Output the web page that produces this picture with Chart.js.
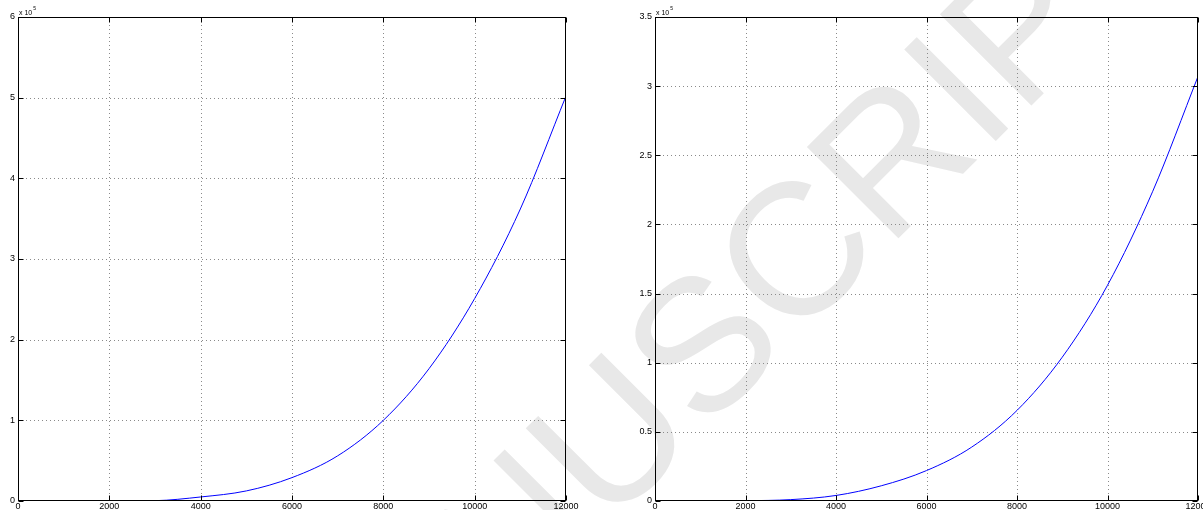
<!DOCTYPE html>
<html>
<head>
<meta charset="utf-8">
<script src="https://cdn.jsdelivr.net/npm/chart.js@4.4.0/dist/chart.umd.min.js"></script>
<style>
html, body { margin: 0; padding: 0; background: #fff; overflow: hidden; }
#wrap { position: relative; width: 1203px; height: 510px; overflow: hidden; }
#mark {
  position: absolute; left: 705px; top: 340px;
  transform: translate(-50%, -50%) rotate(-45deg);
  font: 188px "Liberation Sans", Arial, sans-serif;
  color: #e8e8e8; white-space: nowrap; line-height: 1; z-index: 0;
}
canvas { position: absolute; top: 0; z-index: 1; }
#left { left: 0; }
#right { left: 580px; }
</style>
</head>
<body>
<div id="wrap">
  <div id="mark">MANUSCRIPT</div>
  <canvas id="left" width="580" height="510"></canvas>
  <canvas id="right" width="623" height="510"></canvas>
</div>
<script>
// values, y in units of 10^5
const xVals = [0, 1000, 2000, 3000, 4000, 5000, 6000, 7000, 8000, 9000, 10000, 11000, 12000]
const leftVals = [0, 0, 0, 0.004, 0.05, 0.125, 0.29, 0.56, 1.0, 1.64, 2.51, 3.62, 5.02]
const rightVals = [0, 0, 0.002, 0.01, 0.04, 0.11, 0.22, 0.39, 0.655, 1.04, 1.56, 2.24, 3.07]
const exponent = "5"

const fam = '"Liberation Sans", Arial, Helvetica, sans-serif'

const matlabFrame = {
    id: "matlabFrame",
    beforeDatasetsDraw(chart) {
        const {ctx, chartArea: a, scales: {x, y}} = chart
        ctx.save()
        ctx.strokeStyle = "#8a8a8a"
        ctx.lineWidth = 1
        ctx.setLineDash([1, 3])
        ctx.beginPath()
        x.ticks.forEach(t => {
            if (t.value <= x.min || t.value >= x.max) return
            const px = Math.round(x.getPixelForValue(t.value)) + 0.5
            ctx.moveTo(px, a.top); ctx.lineTo(px, a.bottom)
        })
        y.ticks.forEach(t => {
            if (t.value <= y.min || t.value >= y.max) return
            const py = Math.round(y.getPixelForValue(t.value)) + 0.5
            ctx.moveTo(a.left, py); ctx.lineTo(a.right, py)
        })
        ctx.stroke()
        ctx.restore()
    },
    afterDatasetsDraw(chart) {
        const {ctx, chartArea: a, scales: {x, y}} = chart
        const L = Math.round(a.left) + 0.5, R = Math.round(a.right) - 0.5
        const T = Math.round(a.top) + 0.5, B = Math.round(a.bottom) - 0.5
        ctx.save()
        ctx.strokeStyle = "#000"
        ctx.lineWidth = 1
        ctx.strokeRect(L, T, R - L, B - T)
        ctx.beginPath()
        x.ticks.forEach(t => {
            const px = Math.round(x.getPixelForValue(t.value)) + 0.5
            ctx.moveTo(px, B); ctx.lineTo(px, B - 5)
            ctx.moveTo(px, T); ctx.lineTo(px, T + 5)
        })
        y.ticks.forEach(t => {
            const py = Math.round(y.getPixelForValue(t.value)) + 0.5
            ctx.moveTo(L, py); ctx.lineTo(L + 5, py)
            ctx.moveTo(R, py); ctx.lineTo(R - 5, py)
        })
        ctx.stroke()
        // exponent label
        ctx.fillStyle = "#000"
        ctx.textBaseline = "alphabetic"
        ctx.font = "7px " + fam
        ctx.fillText("x 10", a.left + 1, a.top - 2)
        const w = ctx.measureText("x 10").width
        ctx.font = "5px " + fam
        ctx.fillText(exponent, a.left + 2 + w, a.top - 7)
        ctx.restore()
    }
}

function makeChart(id, values, yMax, yStep, yAxisW, padRight) {
    return new Chart(document.getElementById(id), {
        type: "line",
        data: {
            datasets: [{
                data: xVals.map((x, i) => ({x: x, y: values[i]})),
                borderColor: "#0000ff",
                borderWidth: 1,
                pointRadius: 0,
                cubicInterpolationMode: "monotone",
                fill: false
            }]
        },
        options: {
            responsive: false,
            animation: false,
            layout: {padding: {top: 17, right: padRight, left: 0, bottom: 0}},
            plugins: {legend: {display: false}, tooltip: {enabled: false}},
            scales: {
                x: {
                    type: "linear", min: 0, max: 12000,
                    ticks: {stepSize: 2000, autoSkip: false, maxRotation: 0, padding: 0,
                        color: "#000", font: {size: 9, family: fam}, callback: v => String(v)},
                    grid: {display: false, drawTicks: false},
                    border: {display: false},
                    afterFit: s => { s.height = 9; s.paddingLeft = 0; s.paddingRight = 0 }
                },
                y: {
                    min: 0, max: yMax,
                    ticks: {stepSize: yStep, padding: 3, color: "#000",
                        font: {size: 9, family: fam}, callback: v => String(v)},
                    grid: {display: false, drawTicks: false},
                    border: {display: false},
                    afterFit: s => { s.width = yAxisW }
                }
            }
        },
        plugins: [matlabFrame]
    })
}

makeChart("left", leftVals, 6, 1, 18, 14)
makeChart("right", rightVals, 3.5, 0.5, 75, 5)
</script>
</body>
</html>
